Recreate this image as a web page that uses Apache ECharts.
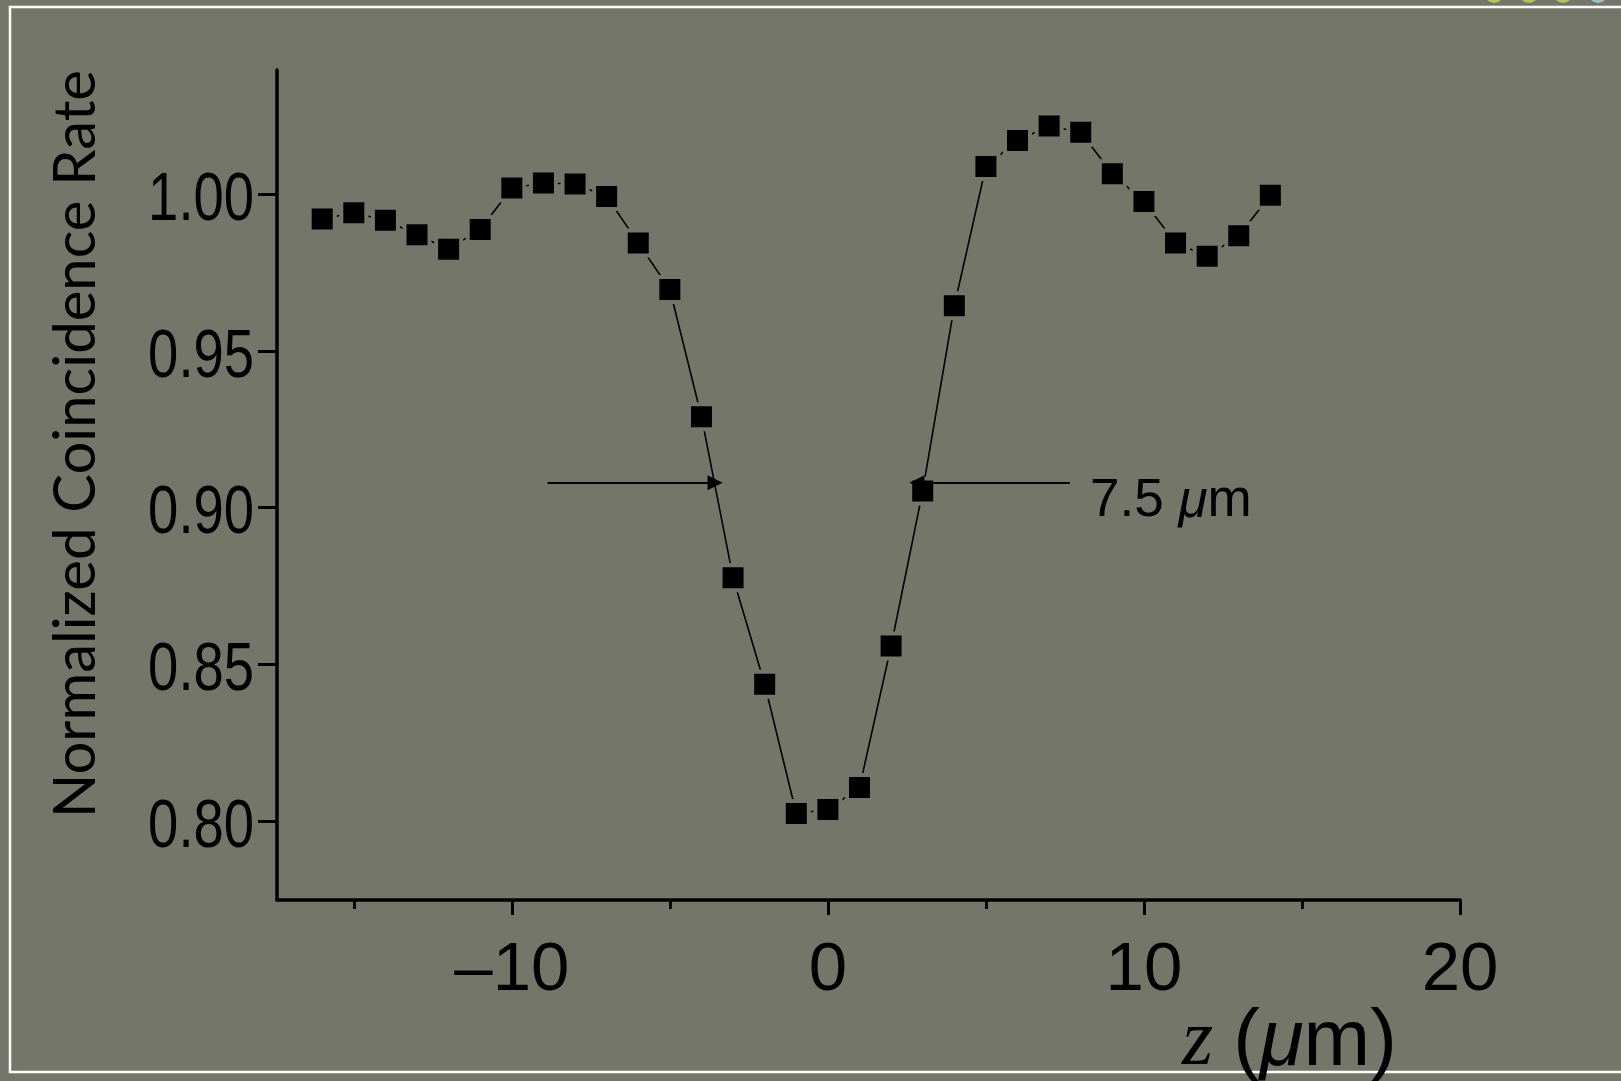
<!DOCTYPE html>
<html>
<head>
<meta charset="utf-8">
<title>Normalized Coincidence Rate</title>
<script src="https://cdn.jsdelivr.net/npm/echarts@6/dist/echarts.min.js"></script>
<style>
  html, body { margin: 0; padding: 0; background: #74766a; }
  #chart { width: 1621px; height: 1081px; }
</style>
</head>
<body>
<div id="chart"></div>
<script>
// scan positions (um) and measured normalized rates
const zValues = [-16, -15, -14, -13, -12, -11, -10, -9, -8, -7, -6, -5, -4, -3, -2, -1,
  0, 1, 2, 3, 4, 5, 6, 7, 8, 9, 10, 11, 12, 13, 14];
const rateValues = [0.9921, 0.9941, 0.9917, 0.9871, 0.9825, 0.9888, 1.0020, 1.0036, 1.0033,
  0.9993, 0.9845, 0.9696, 0.9290, 0.8776, 0.8436, 0.8023, 0.8036, 0.8106, 0.8558,
  0.9053, 0.9644, 1.0089, 1.0172, 1.0218, 1.0198, 1.0066, 0.9977, 0.9845, 0.9802,
  0.9868, 0.9997];

// tick labels
const xMajorTicks = [-10, 0, 10, 20];
const xMinorTicks = [-15, -5, 5, 15];
const yTicks = [0.80, 0.85, 0.90, 0.95, 1.00];

// FWHM arrows: [tail z, tip z], drawn at arrowRate
const leftArrow = [-8.87, -3.57];
const rightArrow = [7.66, 2.82];
const arrowRate = 0.9079;
const widthText = '7.5';

const bg = '#74766a';
const chart = echarts.init(document.getElementById('chart'));

const points = zValues.map((z, i) => [z, rateValues[i]]);

const option = {
  backgroundColor: bg,
  animation: false,
  grid: { left: 277, right: 161, top: 70, bottom: 181 },
  xAxis: [
    {
      type: 'value',
      min: -17.43,
      max: 20,
      splitLine: { show: false },
      axisLine: { onZero: false, lineStyle: { color: '#000', width: 3.5 } },
      axisTick: { customValues: xMajorTicks, length: 15, lineStyle: { color: '#000', width: 3 } },
      axisLabel: {
        customValues: xMajorTicks,
        margin: 36,
        color: '#000',
        fontSize: 69,
        fontFamily: 'Liberation Sans, Arial, sans-serif',
        formatter: (v) => (v < 0 ? '\u2013' + Math.abs(v) : String(v))
      }
    },
    {
      type: 'value',
      position: 'bottom',
      min: -17.43,
      max: 20,
      splitLine: { show: false },
      axisLine: { show: false },
      axisTick: { customValues: xMinorTicks, length: 9, lineStyle: { color: '#000', width: 3 } },
      axisLabel: { show: false }
    }
  ],
  yAxis: {
    type: 'value',
    min: 0.7747,
    max: 1.0397,
    splitLine: { show: false },
    axisLine: { onZero: false, lineStyle: { color: '#000', width: 3.5 } },
    axisTick: { customValues: yTicks, length: 19, lineStyle: { color: '#000', width: 3 } },
    axisLabel: { show: false }
  },
  series: [
    {
      type: 'line',
      data: points,
      symbol: 'rect',
      symbolSize: 25,
      lineStyle: { color: '#000', width: 1.6 },
      itemStyle: { color: '#000', borderColor: bg, borderWidth: 4 },
      z: 3,
      markLine: {
        silent: true,
        symbol: ['none', 'triangle'],
        symbolSize: 15,
        label: { show: false },
        lineStyle: { color: '#000', width: 2, type: 'solid' },
        data: [
          [{ coord: [leftArrow[0], arrowRate] }, { coord: [leftArrow[1], arrowRate] }],
          [{ coord: [rightArrow[0], arrowRate] }, { coord: [rightArrow[1], arrowRate] }]
        ]
      },
      markPoint: {
        silent: true,
        symbol: 'circle',
        symbolSize: 0,
        data: [{ coord: [rightArrow[0], arrowRate] }],
        label: {
          show: true,
          position: 'right',
          distance: 20,
          offset: [0, 19],
          formatter: '{a|' + widthText + ' }{i|\u03bc}{a|m}',
          rich: {
            a: { color: '#000', fontSize: 53, fontFamily: 'Liberation Sans, Arial, sans-serif' },
            i: { color: '#000', fontSize: 53, fontStyle: 'italic', fontFamily: 'Liberation Sans, Arial, sans-serif' }
          }
        }
      }
    }
  ]
};

chart.setOption(option);

// frame, decorations, axis titles and the condensed y tick labels
const graphics = [
  {
    type: 'rect',
    z: 0,
    shape: { x: 10, y: 7, width: 1700, height: 1065 },
    style: { fill: 'none', stroke: '#fff', lineWidth: 2.5 }
  },
  { type: 'circle', shape: { cx: 1494, cy: -7, r: 10 }, style: { fill: '#b8c64e' } },
  { type: 'circle', shape: { cx: 1529, cy: -7, r: 10 }, style: { fill: '#b8c64e' } },
  { type: 'circle', shape: { cx: 1563, cy: -7, r: 10 }, style: { fill: '#b8c64e' } },
  { type: 'circle', shape: { cx: 1598, cy: -7, r: 10 }, style: { fill: '#9ec3c2' } },
  {
    type: 'text',
    z: 10,
    x: 76,
    y: 444,
    rotation: Math.PI / 2,
    style: {
      text: 'Normalized Coincidence Rate',
      fill: '#000',
      fontSize: 58,
      fontFamily: 'Lato, Roboto, sans-serif',
      align: 'center',
      verticalAlign: 'middle'
    }
  },
  {
    type: 'text',
    z: 10,
    left: 1182,
    top: 1003,
    style: {
      text: '{z|z }{a|(}{i|\u03bc}{a|m)}',
      rich: {
        z: { fontSize: 80, fontStyle: 'italic', fontFamily: 'Liberation Serif, Times New Roman, serif', fill: '#000' },
        a: { fontSize: 80, fontFamily: 'Liberation Sans, Arial, sans-serif', fill: '#000' },
        i: { fontSize: 80, fontStyle: 'italic', fontFamily: 'Liberation Sans, Arial, sans-serif', fill: '#000' }
      }
    }
  }
];

yTicks.forEach((v) => {
  const py = chart.convertToPixel({ yAxisIndex: 0 }, v);
  graphics.push({
    type: 'text',
    z: 10,
    x: 254,
    y: py + 7,
    scaleX: 0.8,
    style: {
      text: v.toFixed(2),
      fill: '#000',
      fontSize: 68,
      fontFamily: 'Liberation Sans, Arial, sans-serif',
      align: 'right',
      verticalAlign: 'middle'
    }
  });
});

chart.setOption({ graphic: graphics });
</script>
</body>
</html>
